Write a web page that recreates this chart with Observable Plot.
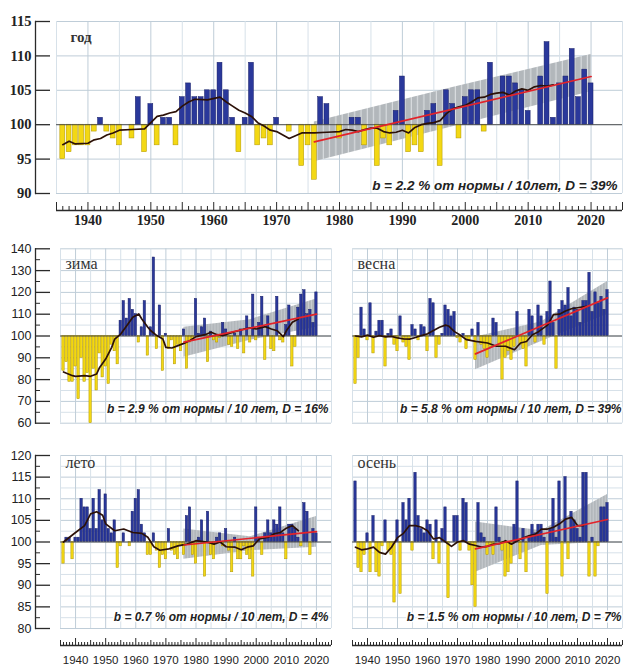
<!DOCTYPE html>
<html><head><meta charset="utf-8">
<script src="https://cdn.jsdelivr.net/npm/d3@7"></script>
<script src="https://cdn.jsdelivr.net/npm/@observablehq/plot@0.6"></script>
<style>
body{margin:0;background:#fff;}
#root{position:relative;width:625px;height:671px;background:#fff;overflow:hidden;}
#root > svg{position:absolute;}
</style></head><body><div id="root"></div>
<script>
// ---------- DATA ----------
const startYear = 1936, endYear = 2020;
const years = d3.range(startYear, endYear + 1);

// annual (год), % of norm
const annualVals = [95,96,97,97,97,99,101,99,98,97,
 100,98,104,96,103,97,101,101,97,104,
 106,104,104,105,105,109,105,101,96,101,
 109,97,98,97,101,100,99,100,94,97,
 92,104,103,100,98,100,101,101,97,100,
 94,98,97,102,107,96,97,96,102,103,
 94,105,103,98,104,105,105,99,109,100,
 107,107,106,105,102,100,107,112,101,106,
 107,111,104,108,106];
const winterVals = [84,88,79,79,86,71,90,79,83,60,
 85,75,92,81,86,78,96,93,87,107,
 116,108,117,112,110,97,104,116,91,104,
 136,94,114,84,101,94,98,87,96,93,
 103,85,97,98,117,101,104,108,88,102,
 98,97,99,106,103,96,95,101,94,103,
 92,109,97,119,98,106,118,89,109,94,
 93,118,98,97,105,114,86,95,113,119,
 121,110,112,106,120];
const springVals = [78,90,113,103,98,115,92,102,107,107,
 86,101,103,96,93,109,97,95,89,105,
 103,98,105,104,93,117,115,90,96,101,
 114,112,109,111,99,97,101,94,98,103,
 89,106,96,94,90,95,108,106,95,80,
 90,93,89,95,111,96,94,86,112,109,
 97,114,109,96,111,125,106,85,112,116,
 114,122,109,113,112,106,116,116,129,111,
 120,115,118,112,121];
const summerVals = [95,101,101,96,101,101,110,108,108,103,
 110,103,112,105,111,103,102,105,94,99,
 102,100,99,107,110,112,104,102,97,97,
 102,98,94,97,96,103,98,97,96,99,
 97,106,108,97,95,101,105,92,107,97,
 96,101,102,99,103,98,93,101,96,96,
 99,97,96,92,108,101,97,102,105,102,
 105,104,108,102,96,104,104,103,101,99,
 109,107,97,103,102];
const autumnVals = [114,94,93,97,102,93,106,93,92,99,
 105,98,97,86,105,88,109,105,110,98,
 116,106,103,102,105,104,96,105,95,103,
 108,87,100,106,106,98,110,109,98,90,
 85,109,102,101,97,99,97,108,101,98,
 92,93,95,104,114,96,103,93,101,104,
 102,104,104,101,88,103,110,101,114,92,
 115,96,107,105,103,101,116,116,92,101,
 92,99,108,108,109];

// smoothed curves
const annualMaYears = [1936,1937,1938,1940,1941,1942,1943,1944,1945,1947,1949,1950,1951,1952,1953,1954,1955,1956,1957,1959,1961,1962,1963,1964,1965,1966,1967,1968,1969,1970,1971,1972,1973,1974,1976,1978,1980,1981,1982,1983,1984,1985,1986,1987,1988,1989,1990,1991,1992,1993,1994,1995,1996,1997,1998,1999,2000,2001,2002,2003,2004,2005,2006,2007,2008,2009,2010,2011,2012,2013,2014];
const annualMaVals = [97.1,97.6,97.2,97.3,97.8,98.0,98.5,98.8,99.2,99.3,99.4,100.3,101.2,101.4,101.7,101.9,102.7,103.3,103.7,103.6,104.0,103.3,102.7,102.1,101.7,101.2,100.3,99.8,99.2,99.0,98.5,98.0,98.4,98.8,98.8,98.9,99.0,99.3,99.2,99.0,99.3,99.5,99.5,99.0,98.8,98.9,99.2,98.8,99.6,100.0,100.2,100.3,100.6,101.6,102.3,102.6,102.8,103.3,103.9,104.0,104.4,104.6,104.7,104.3,104.9,105.2,105.0,105.5,105.7,105.6,105.8];
const winterMaYears = [1936,1937,1939,1940,1943,1945,1947,1948,1950,1952,1953,1955,1957,1959,1961,1962,1964,1965,1967,1969,1970,1972,1974,1976,1978,1980,1983,1985,1987,1989,1991,1994,1996,1998,2000,2003,2005,2007,2009,2010,2012,2014];
const winterMaVals = [83.5,82.9,81.8,81.5,81.8,81.5,82.6,85.6,89.4,94.8,98.6,100.9,104.7,108.6,110.1,107.8,104.0,102.4,100.2,98.6,94.8,94.5,95.6,96.6,97.9,99.7,100.6,101.7,100.6,100.2,101.2,102.4,103.2,103.7,103.2,104.3,103.2,102.4,99.7,102.4,106.3,107.8];
const springMaYears = [1936,1938,1940,1942,1944,1946,1948,1950,1952,1954,1956,1958,1960,1962,1964,1966,1967,1969,1971,1973,1976,1980,1983,1986,1989,1991,1993,1995,1997,2000,2002,2004,2006,2008,2011,2013];
const springMaVals = [100.0,99.6,100.4,99.4,100.2,99.6,99.8,99.1,98.7,98.6,99.3,100.2,101.0,102.5,104.0,105.0,104.6,102.0,100.3,98.3,97.5,96.8,95.3,95.3,93.7,96.8,97.5,100.6,102.0,105.0,109.8,110.0,111.5,112.5,113.2,113.6];
const summerMaYears = [1936,1938,1940,1943,1945,1947,1949,1950,1953,1956,1959,1962,1964,1966,1968,1971,1974,1977,1980,1984,1986,1988,1990,1993,1995,1997,1999,2001,2004,2006,2008,2010,2012,2014];
const summerMaVals = [100.0,101.1,102.2,103.8,106.5,107.0,106.2,104.2,102.6,103.0,102.2,102.0,101.1,98.9,98.1,98.4,99.1,99.5,100.3,99.9,99.5,100.0,98.9,98.8,98.2,98.8,99.1,100.7,101.1,101.9,102.2,103.2,103.8,102.6];
const autumnMaYears = [1936,1938,1940,1942,1944,1946,1948,1950,1952,1954,1956,1958,1960,1962,1964,1966,1968,1970,1972,1974,1976,1978,1980,1982,1984,1986,1988,1990,1992,1994,1996,1998,2000,2002,2004,2006,2008,2010,2012];
const autumnMaVals = [98.8,98.2,98.4,98.8,97.6,97.2,98.8,101.0,102.0,103.8,103.8,103.4,102.6,100.7,101.0,100.0,99.0,100.0,100.3,99.5,99.2,98.8,99.0,99.5,99.6,100.3,99.5,100.3,101.0,101.5,101.8,103.0,103.0,103.4,104.2,105.3,105.7,103.8,103.8];

// linear trends 1976-2020
const trendYears = [1976, 2020];
const annualTrend = [97.5, 107.0];
const winterTrend = [97.2, 110.0];
const springTrend = [91.8, 117.5];
const summerTrend = [99.3, 102.4];
const autumnTrend = [98.4, 105.2];

// confidence band edges
const bandYears = [1976, 1998, 2020];
const annualBandLo = [94.6, 99.7, 104.8], annualBandHi = [100.4, 105.4, 110.2];
const winterBandLo = [90.2, 98.0, 104.0], winterBandHi = [104.0, 107.5, 117.0];
const springBandLo = [84.5, 97.5, 110.0], springBandHi = [99.5, 106.5, 125.0];
const summerBandLo = [96.0, 98.0, 98.8], summerBandHi = [103.0, 101.2, 105.9];
const autumnBandLo = [93.0, 99.2, 100.0], autumnBandHi = [104.6, 102.6, 111.0];

// labels & ticks
const titles = {annual: "год", winter: "зима", spring: "весна", summer: "лето", autumn: "осень"};
const notes = {
  annual: "b = 2.2 % от нормы / 10лет, D = 39%",
  winter: "b = 2.9 % от нормы / 10 лет, D = 16%",
  spring: "b = 5.8 % от нормы / 10 лет, D = 39%",
  summer: "b = 0.7 % от нормы / 10 лет, D = 4%",
  autumn: "b = 1.5 % от нормы / 10 лет, D = 7%"
};
const decadeTicks = [1940,1950,1960,1970,1980,1990,2000,2010,2020];
const annualYTicks = [90,95,100,105,110,115];
const seasonTopYTicks = [60,70,80,90,100,110,120,130,140];
const seasonTopYMinor = [65,75,85,95,105,115,125,135];
const seasonBotYTicks = [80,85,90,95,100,105,110,115,120];
const seasonBotYMinor = [82.5,87.5,92.5,97.5,102.5,107.5,112.5,117.5];

// ---------- STYLE ----------
const X0 = 1935, X1 = 2025;
const rulerYears = d3.range(X0, X1 + 1);
const grid5Years = rulerYears.filter(y => y % 5 === 0);
const C = {blue: "#2a389b", blueEdge: "#161d66", yellow: "#f3d814", yellowEdge: "#b09600",
  band: "#b2b7bb", bandGap: "#dadde0", gridL: "#d7e1e9", gridD: "#bfcdd8", ma: "#2c1108", red: "#e2232a", axis: "#2a2a2a"};
const root = document.getElementById("root");

function place(svg, left, top) {
  svg.style.left = left + "px"; svg.style.top = top + "px";
  root.appendChild(svg);
}

function mainPanel(o) {
  const data = years.map((y, i) => ({year: y, value: o.vals[i]}));
  const ma = o.maYears.map((y, i) => ({year: y, value: o.maVals[i]}));
  const trend = trendYears.map((y, i) => ({year: y, value: o.trend[i]}));
  const band = bandYears.map((y, i) => ({year: y, lo: o.bandLo[i], hi: o.bandHi[i]}));
  const [y0, y1] = o.yDomain;
  const frameW = o.width - o.mLeft - o.mRight;
  const marks = [
    Plot.ruleY(o.gridMinorY, {y: d => d, x1: X0, x2: X1, stroke: C.gridL}),
    Plot.ruleY(o.gridMajorY, {y: d => d, x1: X0, x2: X1, stroke: C.gridD}),
    Plot.ruleX(grid5Years.filter(y => y % 10 !== 0), {x: d => d, y1: y0, y2: y1, stroke: C.gridL}),
    Plot.ruleX(grid5Years.filter(y => y % 10 === 0), {x: d => d, y1: y0, y2: y1, stroke: C.gridD}),
    Plot.areaY(band, {x: "year", y1: "lo", y2: "hi", fill: `url(#${o.id}-pat)`}),
    Plot.rect(data, {filter: d => d.value > 100, x1: d => d.year - 0.39, x2: d => d.year + 0.39, y1: 100, y2: "value",
      fill: C.blue, stroke: C.blueEdge, strokeWidth: 0.5}),
    Plot.rect(data, {filter: d => d.value < 100, x1: d => d.year - 0.39, x2: d => d.year + 0.39, y1: "value", y2: 100,
      fill: C.yellow, stroke: C.yellowEdge, strokeWidth: 0.5}),
    Plot.ruleY([100], {x1: X0, x2: X1, stroke: "#444", strokeWidth: 0.9}),
    Plot.line(ma, {x: "year", y: "value", stroke: C.ma, strokeWidth: 1.7}),
    Plot.line(trend, {x: "year", y: "value", stroke: C.red, strokeWidth: 1.7}),
    Plot.text([o.title], {text: d => d, frameAnchor: "top-left", textAnchor: "start", lineAnchor: "top",
      dx: o.titleDx, dy: o.titleDy, fontFamily: "Liberation Serif", fontSize: o.titleSize, fontWeight: o.titleWeight, fill: "#333"}),
    Plot.text([o.note], {text: d => d, frameAnchor: "bottom-right", textAnchor: "end", lineAnchor: "bottom",
      dx: o.noteDx, dy: o.noteDy, fontFamily: "Liberation Sans", fontSize: o.noteSize, fontWeight: "bold",
      fontStyle: "italic", fill: "#222", stroke: "white", strokeWidth: 3})
  ];
  if (o.yTicks) {
    marks.push(Plot.frame({anchor: "left", stroke: C.axis, strokeWidth: 1.3}));
    marks.push(Plot.tickY(o.yTicks, {y: d => d, insetRight: frameW - 15, stroke: C.axis, strokeWidth: 1.3}));
    if (o.yMinor) marks.push(Plot.tickY(o.yMinor, {y: d => d, insetRight: frameW - 5, stroke: C.axis, strokeWidth: 1}));
    marks.push(Plot.text(o.yTicks, {y: d => d, text: d => String(d), frameAnchor: "left", textAnchor: "end", dx: -4,
      fontFamily: o.yFont, fontSize: o.yFontSize, fontWeight: o.yFontWeight, fill: "#222"}));
  }
  const chart = Plot.plot({
    width: o.width, height: o.height,
    marginTop: o.mTop, marginBottom: o.mBottom, marginLeft: o.mLeft, marginRight: o.mRight,
    x: {domain: [X0, X1], range: o.xRange, axis: null},
    y: {domain: o.yDomain, axis: null},
    style: {background: "transparent", overflow: "visible"},
    marks
  });
  // striped fill for the confidence band (one stripe per year)
  const xs = chart.scale("x");
  const step = xs.apply(1977) - xs.apply(1976);
  const ns = "http://www.w3.org/2000/svg";
  const defs = document.createElementNS(ns, "defs");
  const pat = document.createElementNS(ns, "pattern");
  pat.setAttribute("id", o.id + "-pat");
  pat.setAttribute("patternUnits", "userSpaceOnUse");
  pat.setAttribute("x", xs.apply(1976 - 0.41));
  pat.setAttribute("y", 0);
  pat.setAttribute("width", step);
  pat.setAttribute("height", o.height);
  const bg = document.createElementNS(ns, "rect");
  bg.setAttribute("x", 0); bg.setAttribute("y", 0);
  bg.setAttribute("width", step); bg.setAttribute("height", o.height);
  bg.setAttribute("fill", C.bandGap);
  const r = document.createElementNS(ns, "rect");
  r.setAttribute("x", 0); r.setAttribute("y", 0);
  r.setAttribute("width", step * 0.82); r.setAttribute("height", o.height);
  r.setAttribute("fill", C.band);
  pat.appendChild(bg); pat.appendChild(r); defs.appendChild(pat);
  chart.insertBefore(defs, chart.firstChild);
  place(chart, o.left, o.top);
}

function ruler(o) {
  const chart = Plot.plot({
    width: o.width, height: o.height,
    marginTop: 2, marginBottom: o.height - 12, marginLeft: o.mLeft, marginRight: o.mRight,
    x: {domain: [X0, X1], axis: null},
    y: {domain: [0, 10], axis: null},
    style: {background: "transparent", overflow: "visible"},
    marks: [
      Plot.ruleY([0], {x1: X0, x2: X1, stroke: C.axis, strokeWidth: 1.3}),
      Plot.ruleX(rulerYears, {x: d => d, y1: 0, y2: d => d % 10 === 0 ? o.tBig : d % 5 === 0 ? o.tMid : o.tSmall,
        stroke: C.axis, strokeWidth: 1}),
      Plot.text(decadeTicks, {x: d => d, text: d => String(d), frameAnchor: "bottom", lineAnchor: "top", dy: o.labelDy,
        fontFamily: o.font, fontSize: o.fontSize, fontWeight: o.fontWeight, fill: "#222"})
    ]
  });
  place(chart, o.left, o.top);
}

// ---------- PANELS ----------
const topGridY = [90,95,100,105,110,115];
mainPanel({id: "annual", vals: annualVals, maYears: annualMaYears, maVals: annualMaVals, trend: annualTrend,
  bandLo: annualBandLo, bandHi: annualBandHi, yDomain: [90, 115], gridMinorY: [], gridMajorY: topGridY,
  left: 0, top: 0, width: 625, height: 197, mTop: 21, mBottom: 4, mLeft: 35, mRight: 3, xRange: [56, 622],
  title: titles.annual, titleDx: 35, titleDy: 10, titleSize: 15, titleWeight: "bold",
  note: notes.annual, noteDx: -5, noteDy: -4, noteSize: 13.5,
  yTicks: annualYTicks, yFont: "Liberation Serif", yFontSize: 14.5, yFontWeight: "bold"});
ruler({left: 0, top: 198, width: 625, height: 34, mLeft: 56, mRight: 3, tBig: 8, tMid: 8, tSmall: 4,
  labelDy: 5, font: "Liberation Serif", fontSize: 14, fontWeight: "bold"});

const midGridMajor = seasonTopYTicks, midGridMinor = seasonTopYMinor;
const botGridMajor = seasonBotYTicks, botGridMinor = seasonBotYMinor;
const midCommon = {yDomain: [60, 140], gridMinorY: midGridMinor, gridMajorY: midGridMajor, top: 240, height: 187,
  mTop: 8.3, mBottom: 4.3, titleSize: 16, titleWeight: "normal", noteSize: 12, noteDy: -10};
const botCommon = {yDomain: [80, 120], gridMinorY: botGridMinor, gridMajorY: botGridMajor, top: 440, height: 192,
  mTop: 15, mBottom: 4, titleSize: 16, titleWeight: "normal", noteSize: 12, noteDy: -8};
const leftCommon = {left: 0, width: 340, mLeft: 35, mRight: 9, xRange: [60, 331], titleDx: 30,
  yFont: "Liberation Sans", yFontSize: 12.5, yFontWeight: "normal", noteDx: -3};
const rightCommon = {left: 340, width: 285, mLeft: 12, mRight: 3, xRange: [12, 282], titleDx: 5, noteDx: -1};

mainPanel({...midCommon, ...leftCommon, id: "winter", vals: winterVals, maYears: winterMaYears, maVals: winterMaVals,
  trend: winterTrend, bandLo: winterBandLo, bandHi: winterBandHi, title: titles.winter, titleDy: 9, note: notes.winter,
  yTicks: seasonTopYTicks, yMinor: seasonTopYMinor});
mainPanel({...midCommon, ...rightCommon, id: "spring", vals: springVals, maYears: springMaYears, maVals: springMaVals,
  trend: springTrend, bandLo: springBandLo, bandHi: springBandHi, title: titles.spring, titleDy: 9, note: notes.spring});
mainPanel({...botCommon, ...leftCommon, id: "summer", vals: summerVals, maYears: summerMaYears, maVals: summerMaVals,
  trend: summerTrend, bandLo: summerBandLo, bandHi: summerBandHi, title: titles.summer, titleDy: 1, note: notes.summer,
  yTicks: seasonBotYTicks, yMinor: seasonBotYMinor});
mainPanel({...botCommon, ...rightCommon, id: "autumn", vals: autumnVals, maYears: autumnMaYears, maVals: autumnMaVals,
  trend: autumnTrend, bandLo: autumnBandLo, bandHi: autumnBandHi, title: titles.autumn, titleDy: 1, note: notes.autumn});

ruler({left: 0, top: 633, width: 340, height: 38, mLeft: 60, mRight: 9, tBig: 7, tMid: 5, tSmall: 3,
  labelDy: 10, font: "Liberation Sans", fontSize: 11.5, fontWeight: "normal"});
ruler({left: 340, top: 633, width: 285, height: 38, mLeft: 12, mRight: 3, tBig: 7, tMid: 5, tSmall: 3,
  labelDy: 10, font: "Liberation Sans", fontSize: 11.5, fontWeight: "normal"});
</script></body></html>
